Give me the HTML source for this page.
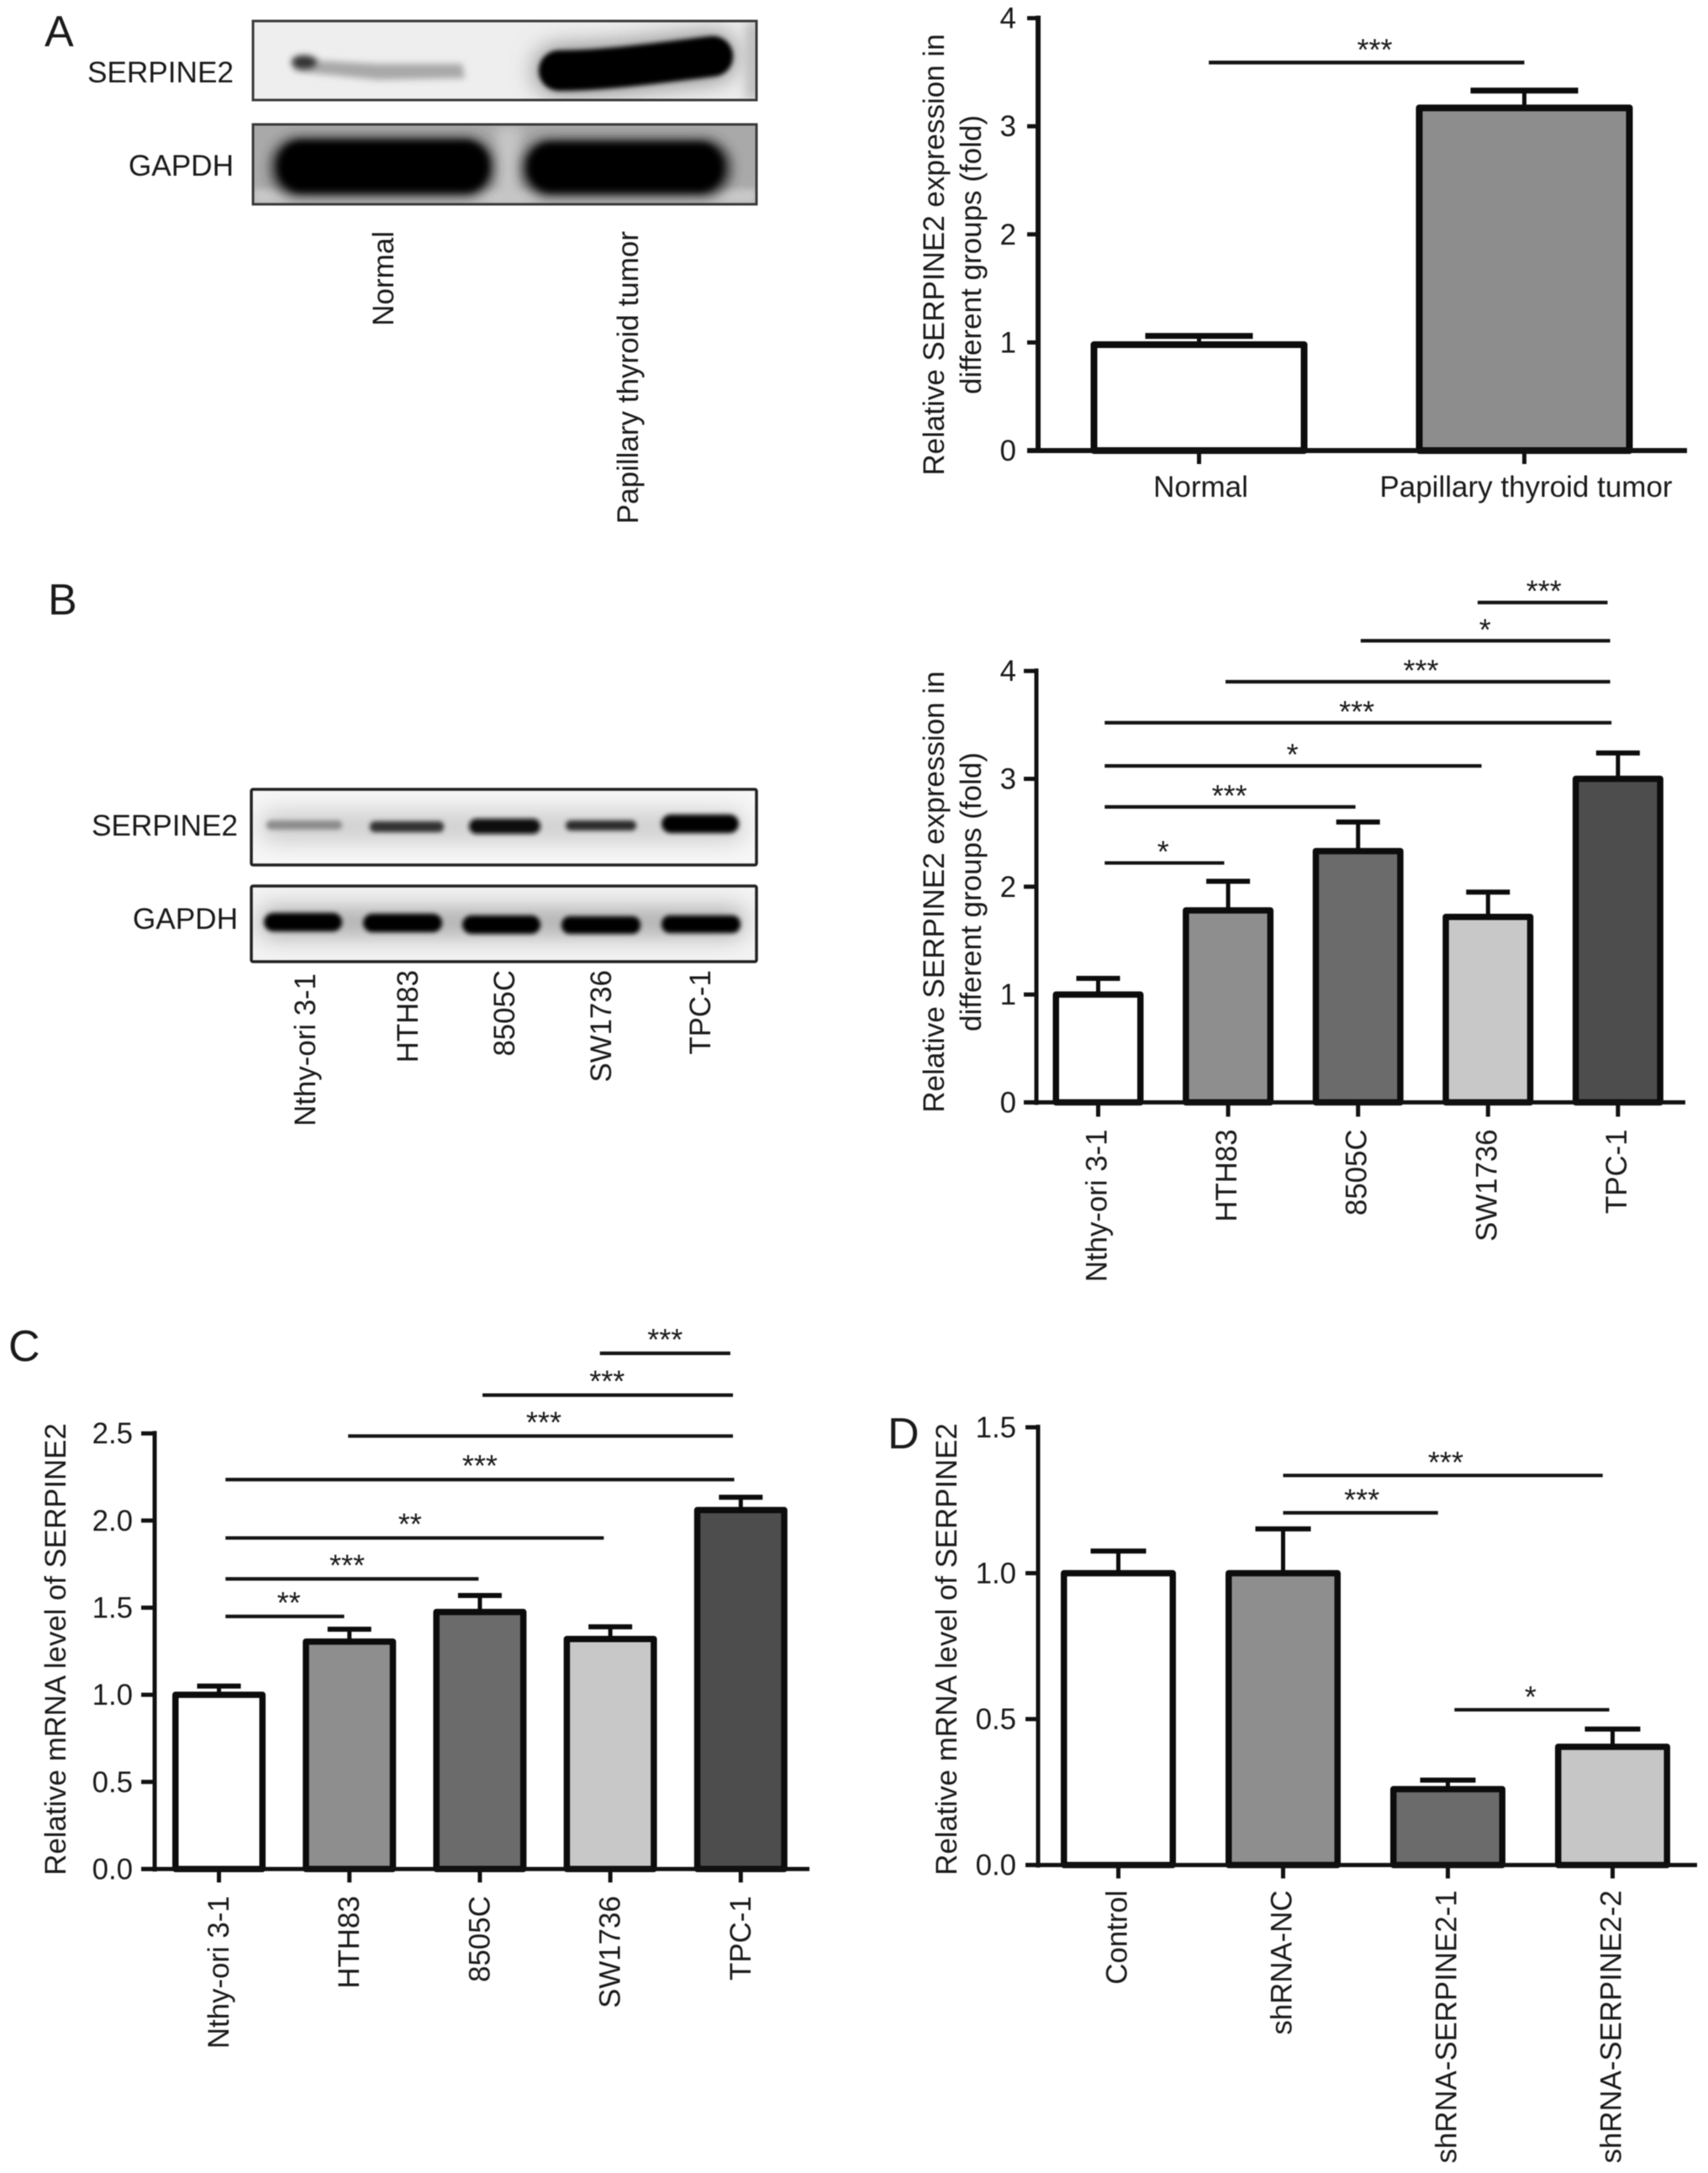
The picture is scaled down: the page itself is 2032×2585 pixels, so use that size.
<!DOCTYPE html>
<html lang="en">
<head>
<meta charset="utf-8">
<title>SERPINE2 expression figure</title>
<style>
html,body{margin:0;padding:0;background:#fff;width:2032px;height:2585px;overflow:hidden}
svg{display:block;position:absolute;left:0;top:0;filter:blur(0.5px)}
text{font-family:"Liberation Sans",sans-serif;fill:#1a1a1a}
</style>
</head>
<body>
<svg id="figure" xmlns="http://www.w3.org/2000/svg" width="2032" height="2585" viewBox="0 0 2032 2585">
<defs>
<filter id="b2" filterUnits="userSpaceOnUse" x="280" y="0" width="650" height="1170"><feGaussianBlur stdDeviation="2.6"/></filter>
<filter id="b4" filterUnits="userSpaceOnUse" x="280" y="0" width="650" height="1170"><feGaussianBlur stdDeviation="4"/></filter>
<filter id="b6" filterUnits="userSpaceOnUse" x="280" y="0" width="650" height="1170"><feGaussianBlur stdDeviation="7"/></filter>
<filter id="b14" filterUnits="userSpaceOnUse" x="280" y="0" width="650" height="1170"><feGaussianBlur stdDeviation="14"/></filter>
<clipPath id="clipA1"><rect x="301" y="25" width="599" height="94"/></clipPath>
<clipPath id="clipA2"><rect x="301" y="148" width="599" height="95"/></clipPath>
<clipPath id="clipB1"><rect x="299" y="939" width="601" height="90"/></clipPath>
<clipPath id="clipB2"><rect x="299" y="1054" width="601" height="90"/></clipPath>
</defs>

<text x="53" y="55" font-size="52">A</text>
<text x="57" y="731" font-size="52">B</text>
<text x="10" y="1619" font-size="52">C</text>
<text x="1056" y="1723" font-size="52">D</text>

<g>
  <text x="278" y="98" font-size="35.2" text-anchor="end">SERPINE2</text>
  <text x="278" y="209" font-size="35.2" text-anchor="end">GAPDH</text>
  <g clip-path="url(#clipA1)">
    <rect x="301" y="25" width="599" height="94" fill="#eeeeee"/>
    <path d="M665,84 C720,84 790,74 848,67" fill="none" stroke="#8a8a8a" stroke-width="58" stroke-linecap="round" filter="url(#b14)"/>
    <rect x="888" y="25" width="16" height="94" fill="#b5b5b5" filter="url(#b6)"/>
    <polygon points="350,68 380,72 450,76 550,76 553,93 450,95 380,88 350,84" fill="#a8a8a8" filter="url(#b4)"/>
    <ellipse cx="362" cy="74" rx="15" ry="8" fill="#333" filter="url(#b4)"/>
    <path d="M665,84 C720,84 790,74 848,67" fill="none" stroke="#060606" stroke-width="48" stroke-linecap="round" filter="url(#b2)"/>
  </g>
  <rect x="301" y="25" width="599" height="94" fill="none" stroke="#3a3a3a" stroke-width="3"/>
  <g clip-path="url(#clipA2)">
    <rect x="301" y="148" width="599" height="95" fill="#a9a9a9"/>
    <rect x="301" y="225" width="599" height="18" fill="#c8c8c8" filter="url(#b4)"/>
    <rect x="590" y="150" width="30" height="90" fill="#c4c4c4" filter="url(#b6)"/>
    <rect x="322" y="163" width="266" height="72" rx="34" fill="#333" filter="url(#b6)"/>
    <rect x="620" y="165" width="250" height="70" rx="34" fill="#333" filter="url(#b6)"/>
    <rect x="331" y="168" width="250" height="60" rx="28" fill="#040404" filter="url(#b4)"/>
    <rect x="628" y="170" width="232" height="58" rx="28" fill="#040404" filter="url(#b4)"/>
  </g>
  <rect x="301" y="148" width="599" height="95" fill="none" stroke="#3a3a3a" stroke-width="3"/>
  <text transform="translate(468,275) rotate(-90)" font-size="35" text-anchor="end">Normal</text>
  <text transform="translate(759,275) rotate(-90)" font-size="35" text-anchor="end">Papillary thyroid tumor</text>
</g>

<g>
  <text x="283" y="994" font-size="35.2" text-anchor="end">SERPINE2</text>
  <text x="283" y="1105" font-size="35.2" text-anchor="end">GAPDH</text>
  <g clip-path="url(#clipB1)">
    <rect x="299" y="939" width="601" height="90" fill="#f7f7f7"/>
    <rect x="310" y="965" width="575" height="36" rx="12" fill="#ccc" filter="url(#b14)"/>
    <rect x="317" y="976" width="90" height="11" rx="5" fill="#8c8c8c" filter="url(#b2)"/>
    <rect x="440" y="977" width="88" height="13" rx="6" fill="#333" filter="url(#b2)"/>
    <rect x="558" y="974" width="85" height="18" rx="9" fill="#0c0c0c" filter="url(#b2)"/>
    <rect x="673" y="976" width="84" height="12" rx="6" fill="#2c2c2c" filter="url(#b2)"/>
    <rect x="787" y="969" width="92" height="22" rx="11" fill="#060606" filter="url(#b2)"/>
  </g>
  <rect x="299" y="939" width="601" height="90" rx="2" fill="none" stroke="#222" stroke-width="3.5"/>
  <g clip-path="url(#clipB2)">
    <rect x="299" y="1054" width="601" height="90" fill="#f3f3f3"/>
    <rect x="310" y="1080" width="575" height="34" rx="12" fill="#aaa" filter="url(#b14)"/>
    <rect x="314" y="1086" width="93" height="22" rx="11" fill="#060606" filter="url(#b2)"/>
    <rect x="432" y="1087" width="94" height="22" rx="11" fill="#060606" filter="url(#b2)"/>
    <rect x="550" y="1089" width="93" height="22" rx="11" fill="#060606" filter="url(#b2)"/>
    <rect x="668" y="1090" width="94" height="21" rx="10" fill="#060606" filter="url(#b2)"/>
    <rect x="787" y="1089" width="94" height="21" rx="10" fill="#060606" filter="url(#b2)"/>
  </g>
  <rect x="299" y="1054" width="601" height="90" rx="2" fill="none" stroke="#222" stroke-width="3.5"/>
  <text transform="translate(375,1158) rotate(-90)" font-size="34.8" text-anchor="end">Nthy-ori 3-1</text>
  <text transform="translate(497,1154) rotate(-90)" font-size="34.8" text-anchor="end">HTH83</text>
  <text transform="translate(612,1154) rotate(-90)" font-size="34.8" text-anchor="end">8505C</text>
  <text transform="translate(727,1154) rotate(-90)" font-size="34.8" text-anchor="end">SW1736</text>
  <text transform="translate(845,1154) rotate(-90)" font-size="34.8" text-anchor="end">TPC-1</text>
</g>
</svg>

<script>
// Panel A data
const aCategories = ['Normal', 'Papillary thyroid tumor'];
const aValues = [0.98, 3.17];
const aUpper = [1.06, 3.33];
const aTicks = [0, 1, 2, 3, 4];
const aTickLabels = ['0', '1', '2', '3', '4'];
const aSigFrom = [0.03];
const aSigTo = [1.0];
const aSigLevel = [3.59];
const aSigStars = ['***'];
const aSigStarAt = [0.54];

// Panel B data
const bCategories = ['Nthy-ori 3-1', 'HTH83', '8505C', 'SW1736', 'TPC-1'];
const bValues = [1.0, 1.78, 2.33, 1.72, 3.0];
const bUpper = [1.15, 2.05, 2.6, 1.95, 3.24];
const bTicks = [0, 1, 2, 3, 4];
const bTickLabels = ['0', '1', '2', '3', '4'];
const bSigFrom = [2.92, 2.02, 0.98, 0.05, 0.05, 0.05, 0.05];
const bSigTo = [3.92, 3.94, 3.94, 3.95, 2.95, 1.98, 0.97];
const bSigLevel = [4.635, 4.28, 3.9, 3.52, 3.12, 2.74, 2.22];
const bSigStars = ['***', '*', '***', '***', '*', '***', '*'];
const bSigStarAt = [3.43, 2.977, 2.484, 1.99, 1.495, 1.01, 0.5];

// Panel C data
const cCategories = ['Nthy-ori 3-1', 'HTH83', '8505C', 'SW1736', 'TPC-1'];
const cValues = [1.0, 1.305, 1.475, 1.32, 2.06];
const cUpper = [1.05, 1.376, 1.57, 1.39, 2.134];
const cTicks = [0, 0.5, 1, 1.5, 2, 2.5];
const cTickLabels = ['0.0', '0.5', '1.0', '1.5', '2.0', '2.5'];
const cSigFrom = [2.92, 2.02, 0.99, 0.05, 0.05, 0.05, 0.05];
const cSigTo = [3.92, 3.94, 3.94, 3.95, 2.95, 1.99, 0.96];
const cSigLevel = [2.96, 2.72, 2.485, 2.235, 1.9, 1.665, 1.45];
const cSigStars = ['***', '***', '***', '***', '**', '***', '**'];
const cSigStarAt = [3.42, 2.975, 2.49, 2.0, 1.464, 0.983, 0.536];

// Panel D data
const dCategories = ['Control', 'shRNA-NC', 'shRNA-SERPINE2-1', 'shRNA-SERPINE2-2'];
const dValues = [1.0, 1.0, 0.26, 0.405];
const dUpper = [1.076, 1.152, 0.291, 0.466];
const dTicks = [0, 0.5, 1, 1.5];
const dTickLabels = ['0.0', '0.5', '1.0', '1.5'];
const dSigFrom = [1.0, 1.0, 2.04];
const dSigTo = [2.94, 1.94, 2.98];
const dSigLevel = [1.335, 1.207, 0.532];
const dSigStars = ['***', '***', '*'];
const dSigStarAt = [1.987, 1.478, 2.502];

const NS = 'http://www.w3.org/2000/svg';
const root = document.getElementById('figure');

function mk(tag, attrs, parent) {
  const node = document.createElementNS(NS, tag);
  for (const k in attrs) node.setAttribute(k, attrs[k]);
  parent.appendChild(node);
  return node;
}

function drawPanel(p) {
  const group = mk('g', {}, root);
  
  

  const yScale = v => p.y0 - (v - p.tickMin) * (p.y0 - p.yTop) / (p.tickMax - p.tickMin);
  const xScale = i => p.x0 + i * p.step;

  // y axis title
  p.titleLines.forEach((line, i) => {
    const t = mk('text', {
      transform: 'translate(' + p.titleX[i] + ',' + p.titleY + ') rotate(-90)',
      'font-size': p.titleFont, 'text-anchor': 'middle'
    }, group);
    t.textContent = line;
    
    
  });

  // bars
  p.values.forEach((v, i) => {
    const cx = xScale(i);
    const errLine = mk('line', {
      x1: cx, x2: cx, y1: yScale(v), y2: yScale(p.upper[i]),
      stroke: '#0c0c0c', 'stroke-width': p.errWidth
    }, group);
    
    
    const cap = mk('line', {
      x1: cx - p.capW / 2, x2: cx + p.capW / 2, y1: yScale(p.upper[i]), y2: yScale(p.upper[i]),
      stroke: '#0c0c0c', 'stroke-width': p.capWidth
    }, group);
    
    
    const bar = mk('rect', {
      x: cx - p.barW / 2 + p.sw / 2, y: yScale(v),
      width: p.barW - p.sw, height: yScale(p.tickMin) - yScale(v),
      fill: p.fills[i], stroke: '#0c0c0c', 'stroke-width': p.sw, 'stroke-linejoin': 'round'
    }, group);
    
    
  });

  // y axis
  const yAxis = mk('line', {
    x1: p.axisX, x2: p.axisX, y1: yScale(p.tickMax) - 3, y2: p.y0 + 3,
    stroke: '#111', 'stroke-width': p.axisW
  }, group);
  
  

  p.ticks.forEach((tv, i) => {
    const tick = mk('line', {
      x1: p.axisX - p.tickLen, x2: p.axisX, y1: yScale(tv), y2: yScale(tv),
      stroke: '#111', 'stroke-width': p.tickW
    }, group);
    
    
    const label = mk('text', {
      x: p.tickLabelX, y: yScale(tv) + 12, 'font-size': p.font, 'text-anchor': 'end'
    }, group);
    label.textContent = p.tickLabels[i];
    
    
  });

  // x axis
  const xAxis = mk('line', {
    x1: p.axisX - p.tickLen, x2: p.xEnd, y1: p.y0, y2: p.y0,
    stroke: '#111', 'stroke-width': p.axisW
  }, group);
  
  

  p.categories.forEach((c, i) => {
    const cx = xScale(i);
    const tick = mk('line', {
      x1: cx, x2: cx, y1: p.y0, y2: p.y0 + p.xTickLen,
      stroke: '#111', 'stroke-width': p.tickW
    }, group);
    
    
    const attrs = p.horizontal
      ? { x: cx + 2, y: p.y0 + p.labelGap, 'text-anchor': 'middle', 'font-size': p.font }
      : { transform: 'translate(' + (cx + p.labelShift) + ',' + (p.y0 + p.labelGap) + ') rotate(-90)', 'text-anchor': 'end', 'font-size': p.font };
    const label = mk('text', attrs, group);
    label.textContent = c;
    
    
  });

  // significance brackets
  p.sigFrom.forEach((from, i) => {
    const ly = yScale(p.sigLevel[i]);
    const sig = mk('line', {
      x1: xScale(from), x2: xScale(p.sigTo[i]), y1: ly, y2: ly,
      stroke: '#141414', 'stroke-width': p.sigW
    }, group);
    
    
    const star = mk('text', {
      x: xScale(p.sigStarAt[i]), y: ly + p.starDy,
      'font-size': 36, 'text-anchor': 'middle'
    }, group);
    star.textContent = p.sigStars[i];
    
    
  });
}

drawPanel({
  id: 'panel-a', categories: aCategories, values: aValues, upper: aUpper,
  ticks: aTicks, tickLabels: aTickLabels, tickMin: 0, tickMax: 4,
  sigFrom: aSigFrom, sigTo: aSigTo, sigLevel: aSigLevel, sigStars: aSigStars, sigStarAt: aSigStarAt,
  fills: ['#ffffff', '#8d8d8d'],
  titleLines: ['Relative SERPINE2 expression in', 'different groups (fold)'], titleX: [1123, 1167], titleY: 303, titleFont: 35,
  x0: 1426.5, step: 387, y0: 536, yTop: 21.6, axisX: 1235, xEnd: 2007,
  barW: 258, capW: 128, sw: 8, errWidth: 5, capWidth: 7, axisW: 6, tickW: 5, tickLen: 13, xTickLen: 16,
  tickLabelX: 1209, font: 35, horizontal: true, labelGap: 55, labelShift: 0, sigW: 4.5, starDy: -3
});

drawPanel({
  id: 'panel-b', categories: bCategories, values: bValues, upper: bUpper,
  ticks: bTicks, tickLabels: bTickLabels, tickMin: 0, tickMax: 4,
  sigFrom: bSigFrom, sigTo: bSigTo, sigLevel: bSigLevel, sigStars: bSigStars, sigStarAt: bSigStarAt,
  fills: ['#ffffff', '#8e8e8e', '#6b6b6b', '#c8c8c8', '#4d4d4d'],
  titleLines: ['Relative SERPINE2 expression in', 'different groups (fold)'], titleX: [1123, 1167], titleY: 1061, titleFont: 35,
  x0: 1306.5, step: 154.6, y0: 1311.4, yTop: 798.2, axisX: 1233, xEnd: 2005,
  barW: 108, capW: 52, sw: 7.5, errWidth: 5, capWidth: 6, axisW: 5, tickW: 5, tickLen: 15, xTickLen: 17,
  tickLabelX: 1209, font: 34.8, horizontal: false, labelGap: 32, labelShift: 10, sigW: 4.2, starDy: -1
});

drawPanel({
  id: 'panel-c', categories: cCategories, values: cValues, upper: cUpper,
  ticks: cTicks, tickLabels: cTickLabels, tickMin: 0, tickMax: 2.5,
  sigFrom: cSigFrom, sigTo: cSigTo, sigLevel: cSigLevel, sigStars: cSigStars, sigStarAt: cSigStarAt,
  fills: ['#ffffff', '#8e8e8e', '#6b6b6b', '#c8c8c8', '#4d4d4d'],
  titleLines: ['Relative mRNA level of SERPINE2'], titleX: [78], titleY: 1962, titleFont: 34.8,
  x0: 260.5, step: 155.2, y0: 2223.4, yTop: 1705.2, axisX: 184, xEnd: 963,
  barW: 111, capW: 52, sw: 7.5, errWidth: 5, capWidth: 6, axisW: 5, tickW: 5, tickLen: 16, xTickLen: 16,
  tickLabelX: 158, font: 34.8, horizontal: false, labelGap: 32, labelShift: 11.5, sigW: 4.2, starDy: -4
});

drawPanel({
  id: 'panel-d', categories: dCategories, values: dValues, upper: dUpper,
  ticks: dTicks, tickLabels: dTickLabels, tickMin: 0, tickMax: 1.5,
  sigFrom: dSigFrom, sigTo: dSigTo, sigLevel: dSigLevel, sigStars: dSigStars, sigStarAt: dSigStarAt,
  fills: ['#ffffff', '#8e8e8e', '#6b6b6b', '#c6c6c6'],
  titleLines: ['Relative mRNA level of SERPINE2'], titleX: [1138], titleY: 1962, titleFont: 34.8,
  x0: 1330.5, step: 196, y0: 2218.6, yTop: 1697.9, axisX: 1235, xEnd: 2019,
  barW: 137, capW: 66, sw: 7.5, errWidth: 5, capWidth: 6, axisW: 5, tickW: 5, tickLen: 15, xTickLen: 16,
  tickLabelX: 1209, font: 34.8, horizontal: false, labelGap: 30, labelShift: 10, sigW: 4.2, starDy: -3
});
</script>
</body>
</html>
